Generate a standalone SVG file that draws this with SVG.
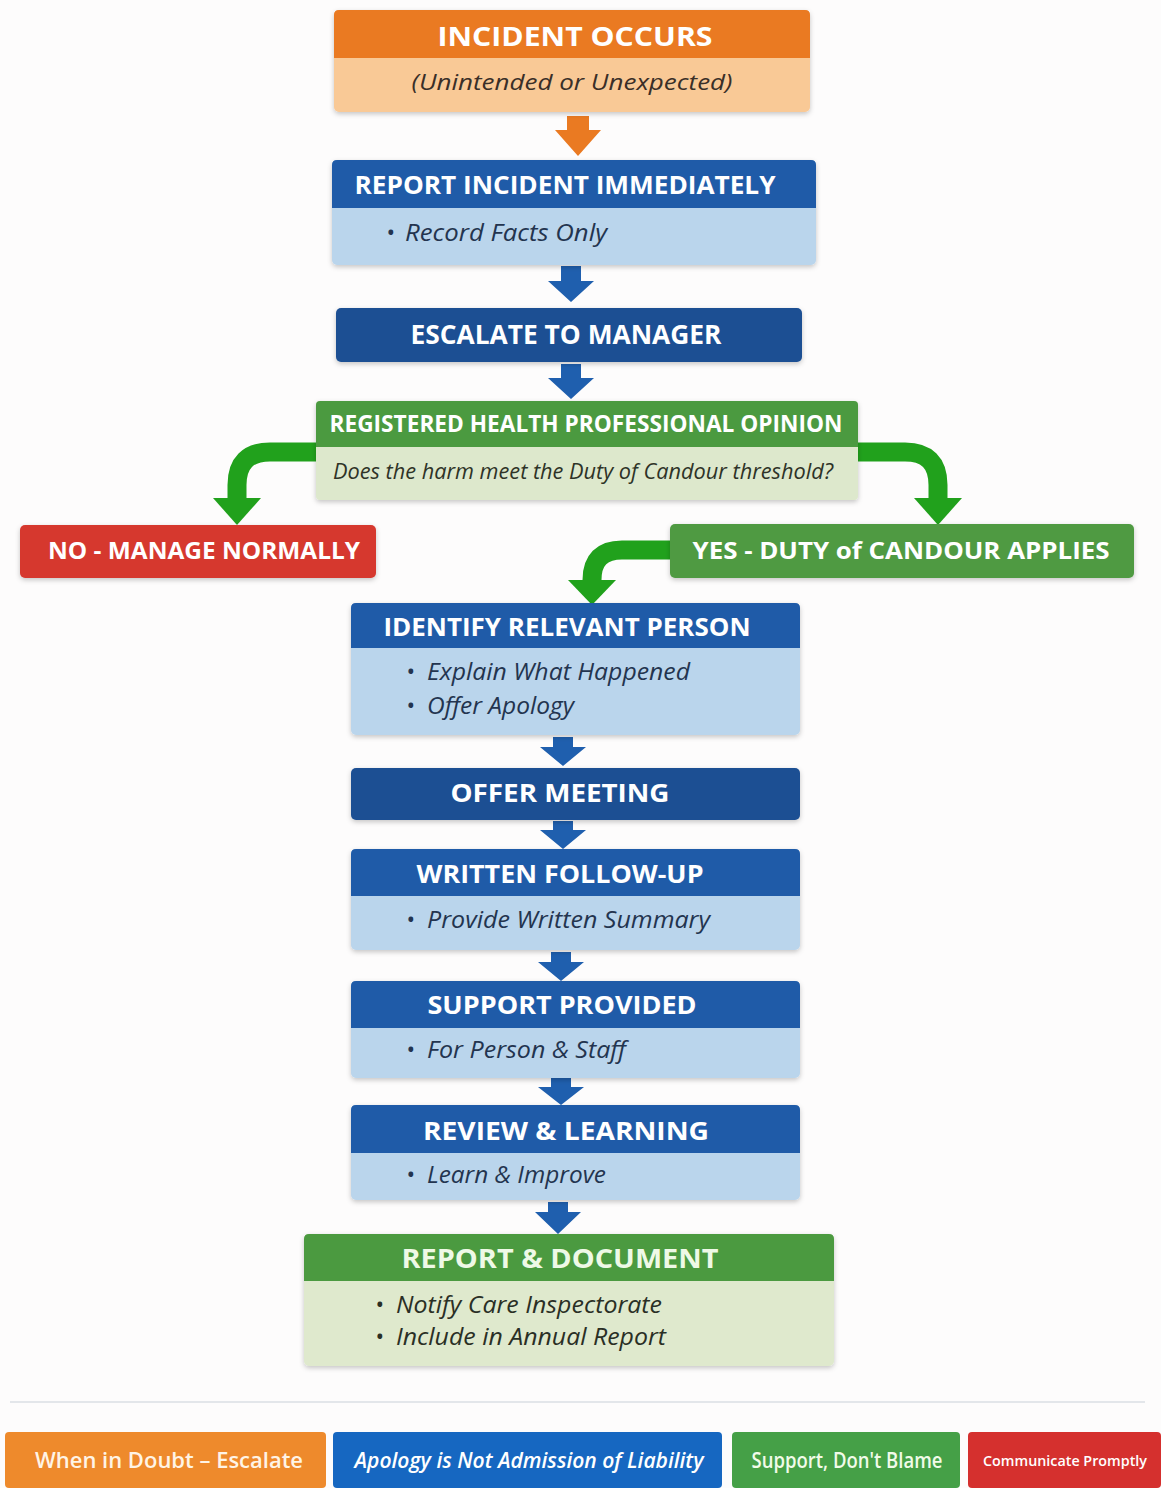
<svg xmlns="http://www.w3.org/2000/svg" width="1161" height="1488" viewBox="0 0 1161 1488">
<defs>
<filter id="sh" x="-5%" y="-10%" width="110%" height="130%">
<feDropShadow dx="0" dy="2" stdDeviation="2.5" flood-color="#000" flood-opacity="0.22"/>
</filter>
<style>
text{font-family:"Open Sans","Liberation Sans",sans-serif}
.h{font-weight:700;fill:#fff;text-anchor:middle}
.b{font-style:italic;fill:#23344f}
.bg{font-style:italic;fill:#2a2f25}
.blueA{fill:#1f5fae}
.grn{fill:none;stroke:#21a11c;stroke-width:19}
.gh{fill:#21a11c}
.lg{font-weight:600;text-anchor:middle}
</style>
</defs>
<rect width="1161" height="1488" fill="#fdfcfc"/>

<g id="connectors">
<polygon points="567,116 589,116 589,130 601,130 578,156 555,130 567,130" fill="#ea7a22"/>
<polygon class="blueA" points="561,266 581,266 581,281 594,281 571,302 548,281 561,281"/>
<polygon class="blueA" points="561,364 581,364 581,378 594,378 571,399 548,378 561,378"/>
<path class="grn" d="M318,452 H270 Q237,452 237,485 V500"/>
<polygon class="gh" points="213,498 261,498 237,525"/>
<path class="grn" d="M856,452 H905 Q938,452 938,485 V500"/>
<polygon class="gh" points="914,498 962,498 938,525"/>
<path class="grn" d="M672,550 H622 Q592,550 592,580 V584"/>
<polygon class="gh" points="568,580 616,580 592,605"/>
<polygon class="blueA" points="553,737 573,737 573,747 586,747 563,766 540,747 553,747"/>
<polygon class="blueA" points="553,821 573,821 573,830 586,830 563,849 540,830 553,830"/>
<polygon class="blueA" points="551,952 571,952 571,962 584,962 561,981 538,962 551,962"/>
<polygon class="blueA" points="551,1078 571,1078 571,1087 584,1087 561,1105 538,1087 551,1087"/>
<polygon class="blueA" points="548,1202 568,1202 568,1212 581,1212 558,1234 535,1212 548,1212"/>
</g>

<g id="incident">
<rect x="334" y="10" width="476" height="102" rx="5" fill="#f9c996" filter="url(#sh)"/>
<path d="M339,10 H805 Q810,10 810,15 V58 H334 V15 Q334,10 339,10 Z" fill="#ea7a22"/>
<text class="h" x="575" y="46" font-size="27" textLength="275" lengthAdjust="spacingAndGlyphs">INCIDENT OCCURS</text>
<text x="572" y="90" font-size="22" font-style="italic" fill="#3a2f28" text-anchor="middle" textLength="321" lengthAdjust="spacingAndGlyphs">(Unintended or Unexpected)</text>
</g>

<g id="report-incident">
<rect x="332" y="160" width="484" height="105" rx="5" fill="#bad5ec" filter="url(#sh)"/>
<path d="M337,160 H811 Q816,160 816,165 V208 H332 V165 Q332,160 337,160 Z" fill="#1f5ba8"/>
<text class="h" x="565" y="194" font-size="25" textLength="421" lengthAdjust="spacingAndGlyphs">REPORT INCIDENT IMMEDIATELY</text>
<text class="b" x="386" y="241" font-size="23">•</text>
<text class="b" x="405" y="241" font-size="23" textLength="202" lengthAdjust="spacingAndGlyphs">Record Facts Only</text>
</g>

<g id="escalate">
<rect x="336" y="308" width="466" height="54" rx="5" fill="#1c4f93" filter="url(#sh)"/>
<text class="h" x="566" y="344" font-size="26" textLength="311" lengthAdjust="spacingAndGlyphs">ESCALATE TO MANAGER</text>
</g>

<g id="registered">
<rect x="316" y="401" width="542" height="99" rx="4" fill="#dde8cc" filter="url(#sh)"/>
<path d="M320,401 H854 Q858,401 858,405 V447 H316 V405 Q316,401 320,401 Z" fill="#4b9a40"/>
<text class="h" x="586" y="432" font-size="23" textLength="513" lengthAdjust="spacingAndGlyphs">REGISTERED HEALTH PROFESSIONAL OPINION</text>
<text x="583" y="479" font-size="21" font-style="italic" fill="#2e3327" text-anchor="middle" textLength="500" lengthAdjust="spacingAndGlyphs">Does the harm meet the Duty of Candour threshold?</text>
</g>

<g id="no">
<rect x="20" y="525" width="356" height="53" rx="5" fill="#d6392f" filter="url(#sh)"/>
<text class="h" x="204" y="559" font-size="23" textLength="312" lengthAdjust="spacingAndGlyphs">NO - MANAGE NORMALLY</text>
</g>

<g id="yes">
<rect x="670" y="524" width="464" height="54" rx="5" fill="#4f9a43" filter="url(#sh)"/>
<text class="h" x="901" y="559" font-size="24" textLength="417" lengthAdjust="spacingAndGlyphs">YES - DUTY of CANDOUR APPLIES</text>
</g>

<g id="identify">
<rect x="351" y="603" width="449" height="132" rx="5" fill="#bad5ec" filter="url(#sh)"/>
<path d="M356,603 H795 Q800,603 800,608 V648 H351 V608 Q351,603 356,603 Z" fill="#1f5ba8"/>
<text class="h" x="567" y="636" font-size="25" textLength="367" lengthAdjust="spacingAndGlyphs">IDENTIFY RELEVANT PERSON</text>
<text class="b" x="406" y="680" font-size="23">•</text>
<text class="b" x="427" y="680" font-size="23" textLength="263" lengthAdjust="spacingAndGlyphs">Explain What Happened</text>
<text class="b" x="406" y="714" font-size="23">•</text>
<text class="b" x="427" y="714" font-size="23" textLength="147" lengthAdjust="spacingAndGlyphs">Offer Apology</text>
</g>

<g id="offer-meeting">
<rect x="351" y="768" width="449" height="52" rx="5" fill="#1c4f93" filter="url(#sh)"/>
<text class="h" x="560" y="802" font-size="25" textLength="219" lengthAdjust="spacingAndGlyphs">OFFER MEETING</text>
</g>

<g id="written">
<rect x="351" y="849" width="449" height="101" rx="5" fill="#bad5ec" filter="url(#sh)"/>
<path d="M356,849 H795 Q800,849 800,854 V896 H351 V854 Q351,849 356,849 Z" fill="#1f5ba8"/>
<text class="h" x="560" y="883" font-size="25" textLength="287" lengthAdjust="spacingAndGlyphs">WRITTEN FOLLOW-UP</text>
<text class="b" x="406" y="928" font-size="23">•</text>
<text class="b" x="427" y="928" font-size="23" textLength="283" lengthAdjust="spacingAndGlyphs">Provide Written Summary</text>
</g>

<g id="support">
<rect x="351" y="981" width="449" height="97" rx="5" fill="#bad5ec" filter="url(#sh)"/>
<path d="M356,981 H795 Q800,981 800,986 V1028 H351 V986 Q351,981 356,981 Z" fill="#1f5ba8"/>
<text class="h" x="562" y="1014" font-size="25" textLength="269" lengthAdjust="spacingAndGlyphs">SUPPORT PROVIDED</text>
<text class="b" x="406" y="1058" font-size="23">•</text>
<text class="b" x="427" y="1058" font-size="23" textLength="199" lengthAdjust="spacingAndGlyphs">For Person &amp; Staff</text>
</g>

<g id="review">
<rect x="351" y="1105" width="449" height="95" rx="5" fill="#bad5ec" filter="url(#sh)"/>
<path d="M356,1105 H795 Q800,1105 800,1110 V1153 H351 V1110 Q351,1105 356,1105 Z" fill="#1f5ba8"/>
<text class="h" x="566" y="1140" font-size="25" textLength="286" lengthAdjust="spacingAndGlyphs">REVIEW &amp; LEARNING</text>
<text class="b" x="406" y="1183" font-size="23">•</text>
<text class="b" x="427" y="1183" font-size="23" textLength="179" lengthAdjust="spacingAndGlyphs">Learn &amp; Improve</text>
</g>

<g id="report-document">
<rect x="304" y="1234" width="530" height="132" rx="5" fill="#dfe9cd" filter="url(#sh)"/>
<path d="M309,1234 H829 Q834,1234 834,1239 V1281 H304 V1239 Q304,1234 309,1234 Z" fill="#4b9a40"/>
<text x="560" y="1268" font-size="26" font-weight="700" fill="#eef9e6" text-anchor="middle" textLength="317" lengthAdjust="spacingAndGlyphs">REPORT &amp; DOCUMENT</text>
<text class="bg" x="375" y="1313" font-size="23">•</text>
<text class="bg" x="396" y="1313" font-size="23" textLength="266" lengthAdjust="spacingAndGlyphs">Notify Care Inspectorate</text>
<text class="bg" x="375" y="1345" font-size="23">•</text>
<text class="bg" x="396" y="1345" font-size="23" textLength="270" lengthAdjust="spacingAndGlyphs">Include in Annual Report</text>
</g>

<line x1="10" y1="1402" x2="1145" y2="1402" stroke="#e3e6ea" stroke-width="2"/>

<g id="legend-escalate">
<rect x="5" y="1432" width="321" height="56" rx="4" fill="#ee8a2c"/>
<text class="lg" x="169" y="1468" font-size="21" fill="#fff4e6" textLength="268" lengthAdjust="spacingAndGlyphs">When in Doubt – Escalate</text>
</g>
<g id="legend-apology">
<rect x="333" y="1432" width="389" height="56" rx="4" fill="#1667c1"/>
<text class="lg" x="529" y="1468" font-size="21" font-style="italic" fill="#fff" textLength="349" lengthAdjust="spacingAndGlyphs">Apology is Not Admission of Liability</text>
</g>
<g id="legend-support">
<rect x="732" y="1432" width="228" height="56" rx="4" fill="#45a047"/>
<text class="lg" x="847" y="1468" font-size="21" fill="#f1fbe9" textLength="191" lengthAdjust="spacingAndGlyphs">Support, Don't Blame</text>
</g>
<g id="legend-communicate">
<rect x="968" y="1432" width="193" height="56" rx="4" fill="#d5302e"/>
<text x="983" y="1466" font-size="15" font-weight="600" fill="#fff" textLength="164" lengthAdjust="spacingAndGlyphs">Communicate Promptly</text>
</g>
</svg>
